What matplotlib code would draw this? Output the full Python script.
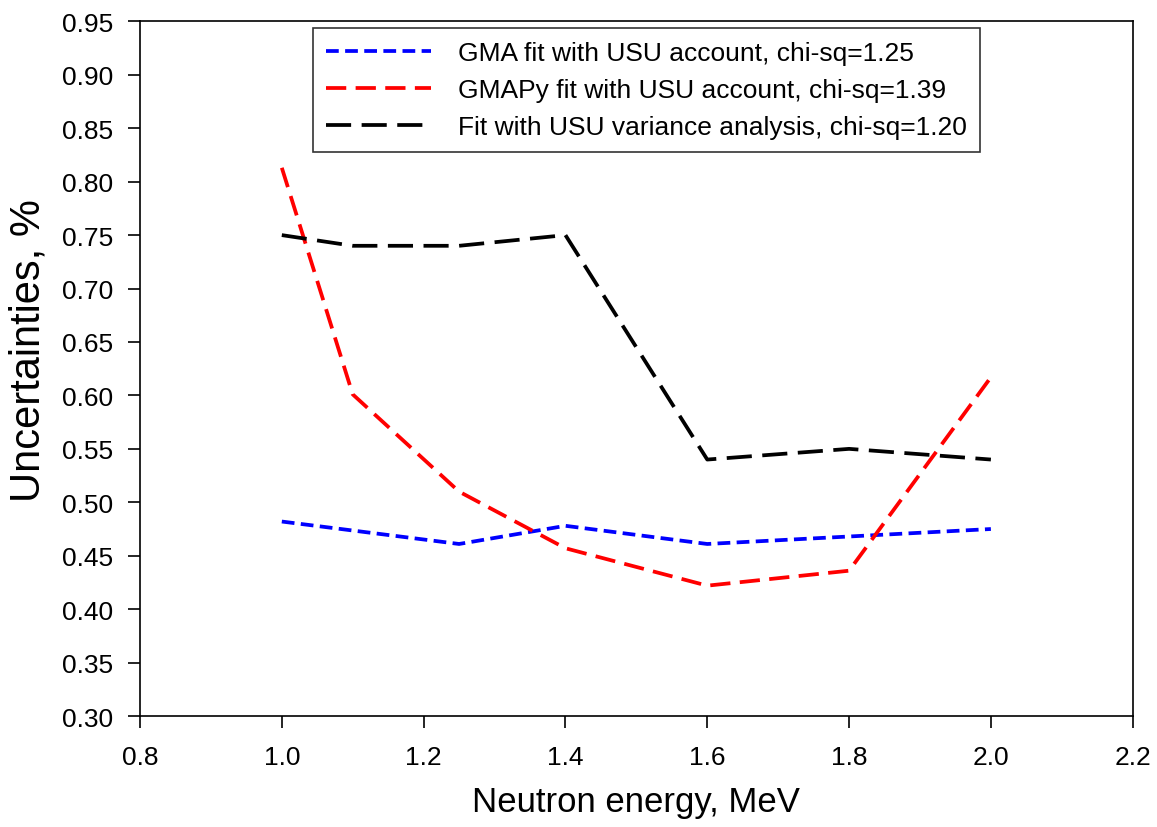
import matplotlib
matplotlib.use('Agg')
from matplotlib import pyplot as plt
from matplotlib import ticker

plt.rcParams['font.family'] = ['Liberation Sans', 'DejaVu Sans']

energy = [1.0, 1.1, 1.25, 1.4, 1.6, 1.8, 2.0]
energy_gma = [1.0, 1.25, 1.4, 1.6, 1.8, 2.0]
gma = [0.482, 0.461, 0.478, 0.461, 0.468, 0.475]
gmapy = [0.813, 0.601, 0.510, 0.457, 0.422, 0.436, 0.617]
usu = [0.750, 0.740, 0.740, 0.750, 0.540, 0.550, 0.540]

labels = ['GMA fit with USU account, chi-sq=1.25',
          'GMAPy fit with USU account, chi-sq=1.39',
          'Fit with USU variance analysis, chi-sq=1.20']

fig = plt.figure(figsize=(11.57, 8.28), dpi=100)
ax = fig.add_axes([0.121, 0.134, 0.858, 0.839])

ax.plot(energy_gma, gma, color='#0000ff', lw=2.7, dashes=(3.4, 1.7), label=labels[0])
ax.plot(energy, gmapy, color='#ff0000', lw=2.7, dashes=(5.4, 2.5), label=labels[1])
ax.plot(energy, usu, color='k', lw=2.7, dashes=(6.7, 2.8), label=labels[2])

ax.set_xlim(0.8, 2.2)
ax.set_ylim(0.30, 0.95)
ax.xaxis.set_major_locator(ticker.MultipleLocator(0.2))
ax.yaxis.set_major_locator(ticker.MultipleLocator(0.05))
ax.xaxis.set_major_formatter(ticker.FormatStrFormatter('%.1f'))
ax.yaxis.set_major_formatter(ticker.FormatStrFormatter('%.2f'))
ax.tick_params(direction='out', length=8.5, width=1.2, labelsize=19)
ax.tick_params(axis='y', pad=11)
ax.tick_params(axis='x', pad=12)
for s in ax.spines.values():
    s.set_linewidth(1.2)

ax.set_xlabel('Neutron energy, MeV', fontsize=25, labelpad=12)
ax.set_ylabel('Uncertainties, %', fontsize=30)
ax.yaxis.set_label_coords(-0.092, 0.528)

leg = ax.legend(loc='upper center', bbox_to_anchor=(0.51, 0.991), fontsize=19,
                handlelength=4.0, handletextpad=1.0, frameon=True, fancybox=False,
                edgecolor='k', borderpad=0.5, labelspacing=0.5, borderaxespad=0)
leg.get_frame().set_linewidth(1.2)

fig.savefig('out.png', dpi=100)
